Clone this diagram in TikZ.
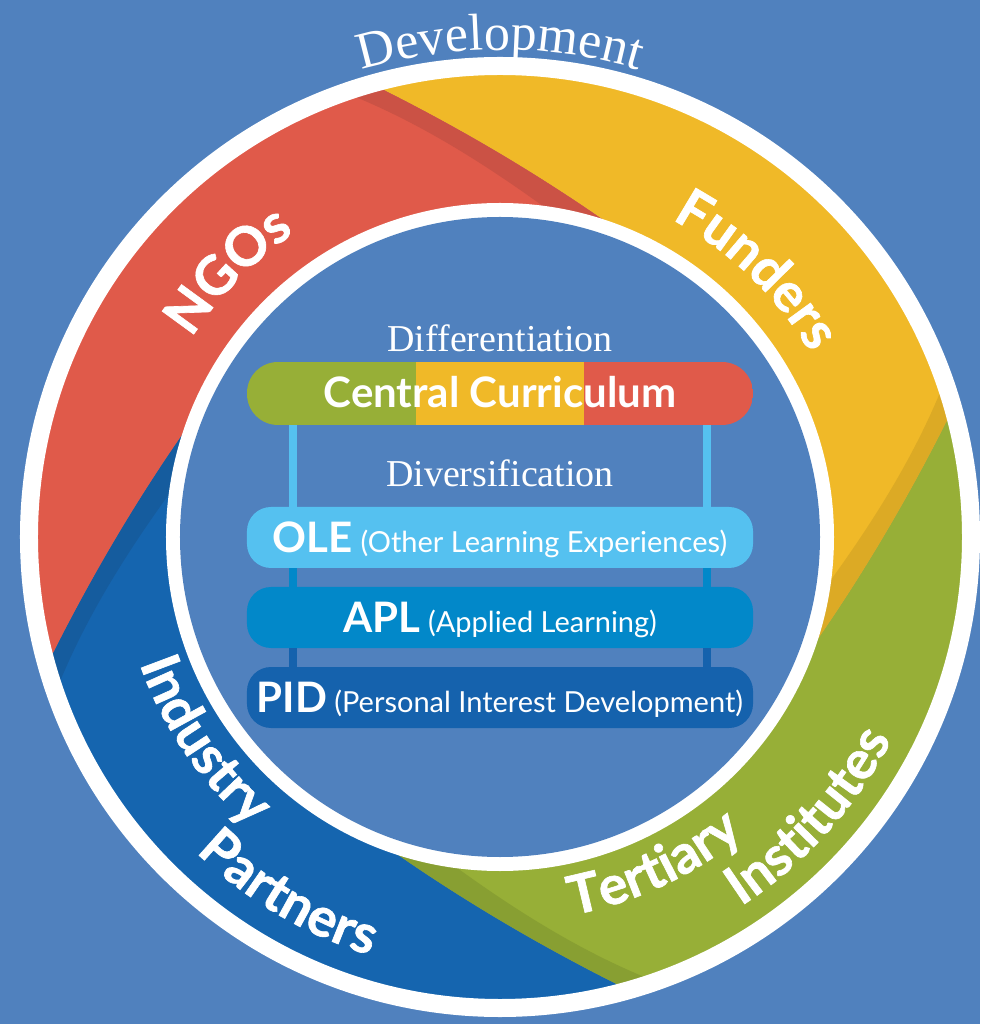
\documentclass[tikz,border=0pt]{standalone}
\usepackage{fontspec}
\setmainfont{Liberation Serif}
\newfontfamily\latofont{Lato}
\newfontfamily\latoheavy{Lato}[BoldFeatures={FakeBold=1.2}]
\usetikzlibrary{calc,decorations.text}
\definecolor{BgBlue}{HTML}{5081BE}
\definecolor{NgoRed}{HTML}{E05A4A}
\definecolor{NgoShade}{HTML}{CB5245}
\definecolor{FundYellow}{HTML}{F0B928}
\definecolor{FundShade}{HTML}{DCAA25}
\definecolor{TertGreen}{HTML}{97AF37}
\definecolor{TertShade}{HTML}{889F32}
\definecolor{IndBlue}{HTML}{1565AF}
\definecolor{IndShade}{HTML}{155C9E}
\definecolor{OleBlue}{HTML}{55C1F0}
\definecolor{AplBlue}{HTML}{0288C9}
\definecolor{PidBlue}{HTML}{1562AD}
\newcommand\ringfont{\latoheavy\bfseries\fontsize{54}{54}\selectfont}
\newcommand\tagfont{\latofont\bfseries\fontsize{42}{42}\selectfont}
\newcommand\notefont{\latofont\fontsize{29}{29}\selectfont}
\newcommand\headfont{\fontsize{38}{38}\selectfont}
\newcommand\devfont{\fontsize{52}{52}\selectfont}

\begin{document}
\begin{tikzpicture}[x=1pt,y=1pt,
  ringlabel/.style={decorate,decoration={text along path,text align=center,text color=white,text={|\ringfont|#1}}},
  tierbox/.style={rounded corners=24pt,minimum width=506pt,minimum height=61pt,inner sep=0pt,
    text height=30pt,text depth=0pt,text=white}]
  \useasboundingbox (-500,-487) rectangle (480,537);
  \fill[BgBlue] (-500,-487) rectangle (480,537);

  \begin{scope}
    \clip (0,0) circle (466);
    \foreach \ang/\col in {0/FundYellow,-90/TertGreen,-180/IndBlue,90/NgoRed} {
      \fill[\col] (0,0) -- ({\ang+60.1}:319)
        .. controls ({\ang+79.26}:353.5) and ({\ang+95.08}:409.9) .. ({\ang+107.1}:480.5)
        -- ({\ang+107.1}:620) arc[start angle={\ang+107.1},end angle={\ang+17.1},radius=620]
        -- ({\ang+17.1}:480.5)
        .. controls ({\ang+5.08}:409.9) and ({\ang-10.74}:353.5) .. ({\ang-29.9}:319)
        -- cycle;
    }
    \foreach \ang/\dk in {0/NgoShade,-90/FundShade,-180/TertShade,90/IndShade} {
      \fill[\dk] ({\ang+107.1}:480.5)
        .. controls ({\ang+95.08}:409.9) and ({\ang+79.26}:353.5) .. ({\ang+60.1}:319)
        -- (0,0) -- ({\ang+77}:318)
        .. controls ({\ang+90.45}:365.7) and ({\ang+101.17}:426.4) .. ({\ang+110.7}:481)
        -- cycle;
    }
  \end{scope}
  \draw[white,line width=18pt] (0,0) circle (471);
  \fill[white] (0,0) circle (334);
  \fill[BgBlue] (0,0) circle (320);

  \path[decorate,decoration={text along path,text align=center,text color=white,text={|\devfont|Development}}]
    (120:487) arc[start angle=120,end angle=60,radius=487];
  \path[ringlabel=NGOs] (165.6:367) arc[start angle=165.6,end angle=105.6,radius=367];
  \path[ringlabel=Funders] (76.1:361) arc[start angle=76.1,end angle=16.1,radius=361];
  \path[ringlabel=Industry] (184.4:382) arc[start angle=184.4,end angle=244.4,radius=382];
  \path[ringlabel=Partners] (209.4:438) arc[start angle=209.4,end angle=269.4,radius=438];
  \path[ringlabel=Tertiary] (-94.9:385) arc[start angle=-94.9,end angle=-34.9,radius=385];
  \path[ringlabel=Institutes] (-72.1:441) arc[start angle=-72.1,end angle=-12.1,radius=441];

  \node[anchor=base,text=white,font=\headfont] (diff) at (0,185) {Differentiation};
  \node[tierbox,rounded corners=31pt,minimum height=63pt,text height=28pt,font=\tagfont,
    path picture={
      \fill[TertGreen,sharp corners] (path picture bounding box.south west) rectangle ([xshift=-84pt]path picture bounding box.north);
      \fill[FundYellow,sharp corners] ([xshift=-84pt]path picture bounding box.south) rectangle ([xshift=84pt]path picture bounding box.north);
      \fill[NgoRed,sharp corners] ([xshift=84pt]path picture bounding box.south) rectangle (path picture bounding box.north east);
    }] (cc) at (0,143.5) {Central Curriculum};
  \node[anchor=base,text=white,font=\headfont] (divers) at (0,50) {Diversification};
  \node[tierbox,fill=OleBlue] (ole) at (0,-0.5) {{\tagfont OLE}\hspace{8pt}{\notefont(Other Learning Experiences)}};
  \node[tierbox,fill=AplBlue] (apl) at (0,-80.5) {{\tagfont APL}\hspace{8pt}{\notefont(Applied Learning)}};
  \node[tierbox,fill=PidBlue] (pid) at (0,-160.5) {{\tagfont PID}\hspace{7pt}{\notefont(Personal Interest Development)}};

  \foreach \a/\b/\col in {cc/ole/OleBlue,ole/apl/AplBlue,apl/pid/PidBlue} {
    \draw[\col,line width=8pt] ([xshift=-207pt]\a.south) -- ([xshift=-207pt]\b.north);
    \draw[\col,line width=8pt] ([xshift=207pt]\a.south) -- ([xshift=207pt]\b.north);
  }
\end{tikzpicture}
\end{document}
